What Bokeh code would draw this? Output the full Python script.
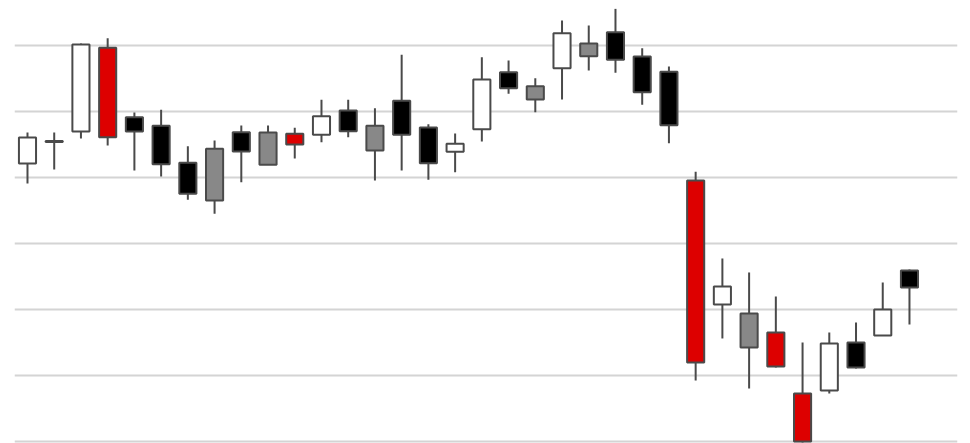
from bokeh.plotting import figure
from bokeh.models import Range1d, FixedTicker, ColumnDataSource
from bokeh.embed import file_html
from bokeh.resources import INLINE

# Candle data (index, open, high, low, close, colour class)
opens  = [82.12, 85.53, 86.97, 99.65, 89.14, 87.83, 82.23, 76.52, 86.86, 81.92,
          86.62, 86.47, 90.15, 84.09, 91.62, 87.58, 83.89, 87.32, 95.95, 91.82,
          96.56, 98.38, 102.02, 98.33, 96.02, 79.55, 60.76, 59.39, 56.52, 47.27,
          47.73, 55.00, 56.06, 65.91]
highs  = [86.82, 86.82, 100.30, 101.11, 89.85, 90.26, 84.74, 85.61, 87.88, 87.88,
          87.53, 91.77, 91.77, 90.50, 98.59, 88.08, 86.67, 98.23, 97.73, 95.05,
          103.79, 103.03, 105.56, 99.59, 96.82, 80.86, 67.73, 65.61, 61.97, 55.00,
          56.52, 58.03, 64.09, 66.06]
lows   = [79.09, 81.21, 85.91, 84.85, 81.06, 80.15, 76.62, 74.50, 79.29, 81.92,
          82.88, 85.35, 86.11, 79.55, 81.06, 79.65, 80.80, 85.45, 92.68, 89.89,
          91.82, 96.21, 95.86, 91.02, 85.20, 49.24, 55.61, 48.03, 51.21, 39.85,
          47.27, 51.06, 56.06, 57.73]
closes = [86.06, 85.38, 100.15, 86.11, 86.97, 82.02, 77.53, 84.35, 83.94, 86.82,
          85.00, 89.29, 87.02, 87.83, 86.47, 82.17, 85.11, 94.85, 93.53, 93.83,
          101.86, 100.30, 97.83, 92.92, 87.92, 51.97, 63.48, 54.24, 51.36, 40.00,
          54.85, 51.21, 60.00, 63.33]
kinds  = ["up", "red", "up", "red", "down", "down", "down", "gray", "down", "gray",
          "red", "up", "down", "gray", "down", "down", "up", "up", "down", "gray",
          "up", "gray", "down", "down", "down", "red", "up", "gray", "red", "red",
          "up", "down", "up", "down"]
grid_values = [40, 50, 60, 70, 80, 90, 100]

palette = {"up": "#ffffff", "down": "#000000", "gray": "#888888", "red": "#dd0000"}

idx = list(range(len(opens)))
src = ColumnDataSource(dict(
    x=idx,
    high=highs,
    low=lows,
    top=[max(o, c) for o, c in zip(opens, closes)],
    bottom=[min(o, c) for o, c in zip(opens, closes)],
    color=[palette[k] for k in kinds],
))

p = figure(width=962, height=443, output_backend="svg", toolbar_location=None,
           x_range=Range1d(-0.486, 34.797), y_range=Range1d(39.697, 105.606),
           min_border_left=14, min_border_right=5, min_border_top=8, min_border_bottom=0)

p.xaxis.visible = False
p.yaxis.visible = False
p.xgrid.visible = False
p.ygrid.ticker = FixedTicker(ticks=grid_values)
p.ygrid.grid_line_color = "#d4d4d4"
p.ygrid.grid_line_width = 2
p.outline_line_color = None
p.background_fill_color = "white"
p.border_fill_color = "white"

p.segment(x0="x", y0="low", x1="x", y1="high", source=src,
          line_color="#4a4a4a", line_width=2)
p.vbar(x="x", width=0.64, top="top", bottom="bottom", source=src,
       fill_color="color", line_color="#4a4a4a", line_width=2)

open("out.html", "w").write(file_html(p, INLINE))
